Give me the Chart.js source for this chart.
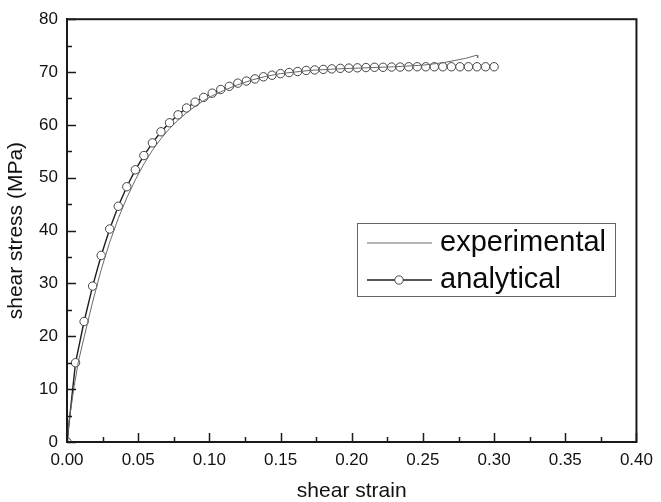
<!DOCTYPE html>
<html>
<head>
<meta charset="utf-8">
<script src="https://cdn.jsdelivr.net/npm/chart.js@4/dist/chart.umd.min.js"></script>
<style>
  html, body { margin: 0; padding: 0; background: #fff; }
  #wrap { width: 661px; height: 502px; position: relative; }
</style>
</head>
<body>
<div id="wrap"><canvas id="chart"></canvas></div>
<script>
// analytical model (open circles)
const analyticalStrain = [0.000, 0.006, 0.012, 0.018, 0.024, 0.030, 0.036, 0.042, 0.048, 0.054,
  0.060, 0.066, 0.072, 0.078, 0.084, 0.090, 0.096, 0.102, 0.108, 0.114,
  0.120, 0.126, 0.132, 0.138, 0.144, 0.150, 0.156, 0.162, 0.168, 0.174,
  0.180, 0.186, 0.192, 0.198, 0.204, 0.210, 0.216, 0.222, 0.228, 0.234,
  0.240, 0.246, 0.252, 0.258, 0.264, 0.270, 0.276, 0.282, 0.288, 0.294, 0.300];
const analyticalStress = [0, 15.0, 22.8, 29.5, 35.3, 40.3, 44.6, 48.3, 51.5, 54.2,
  56.6, 58.7, 60.4, 61.9, 63.2, 64.3, 65.2, 66.0, 66.7, 67.3,
  67.9, 68.3, 68.7, 69.1, 69.4, 69.7, 69.9, 70.1, 70.3, 70.4,
  70.5, 70.6, 70.7, 70.75, 70.8, 70.85, 70.9, 70.9, 70.95, 70.95,
  71.0, 71.0, 71.0, 71.0, 71.0, 71.0, 71.0, 71.0, 71.0, 71.0, 71.0];

// experimental curve (thin grey line)
const experimentalStrain = [0, 0.002, 0.005, 0.008, 0.012, 0.018, 0.024, 0.030, 0.036, 0.042,
  0.048, 0.054, 0.060, 0.066, 0.072, 0.078, 0.084, 0.090, 0.096, 0.102,
  0.110, 0.120, 0.130, 0.140, 0.150, 0.170, 0.190, 0.210, 0.230, 0.250,
  0.265, 0.280, 0.288, 0.2885];
const experimentalStress = [0, 5.0, 10.5, 15.2, 19.8, 26.5, 32.6, 37.8, 42.3, 46.2,
  49.6, 52.6, 55.2, 57.4, 59.3, 60.9, 62.3, 63.5, 64.6, 65.5,
  66.5, 67.6, 68.5, 69.2, 69.7, 70.3, 70.6, 70.8, 71.0, 71.3,
  71.8, 72.6, 73.2, 72.7];

const xTickStep = 0.05;
const yTickStep = 10;
const fontFamily = '"Liberation Sans", Arial, sans-serif';

const toPoints = (xs, ys) => xs.map((x, i) => ({ x, y: ys[i] }));

// inward major/minor ticks + closed frame
const frameTicks = {
  id: 'frameTicks',
  afterDatasetsDraw(chart) {
    const { ctx, chartArea: a, scales } = chart;
    ctx.save();
    ctx.strokeStyle = '#1a1a1a';
    ctx.lineWidth = 2;
    ctx.strokeRect(a.left, a.top, a.right - a.left, a.bottom - a.top);
    ctx.lineWidth = 1.5;
    const x = scales.x, y = scales.y;
    for (let v = 0; v <= 0.4001; v += xTickStep / 2) {
      const px = Math.round(x.getPixelForValue(v)) + 0.5;
      const major = Math.abs(v / xTickStep - Math.round(v / xTickStep)) < 1e-6;
      ctx.beginPath();
      ctx.moveTo(px, a.bottom);
      ctx.lineTo(px, a.bottom - (major ? 9 : 5));
      ctx.stroke();
    }
    for (let v = 0; v <= 80.001; v += yTickStep / 2) {
      const py = Math.round(y.getPixelForValue(v)) + 0.5;
      const major = Math.abs(v / yTickStep - Math.round(v / yTickStep)) < 1e-6;
      ctx.beginPath();
      ctx.moveTo(a.left, py);
      ctx.lineTo(a.left + (major ? 9 : 5), py);
      ctx.stroke();
    }
    ctx.restore();
  }
};

// boxed legend inside the plot
const boxLegend = {
  id: 'boxLegend',
  afterDraw(chart) {
    const { ctx } = chart;
    const ds = chart.data.datasets;
    const bx = 357, by = 223, bw = 258, bh = 73;
    ctx.save();
    ctx.fillStyle = '#fff';
    ctx.fillRect(bx, by, bw, bh);
    ctx.strokeStyle = '#666';
    ctx.lineWidth = 1;
    ctx.strokeRect(bx + 0.5, by + 0.5, bw, bh);
    ctx.font = '29px ' + fontFamily;
    ctx.textBaseline = 'middle';
    ds.forEach((d, i) => {
      const cy = by + 20 + i * 37;
      ctx.strokeStyle = d.borderColor;
      ctx.lineWidth = d.borderWidth;
      ctx.beginPath();
      ctx.moveTo(bx + 10, cy);
      ctx.lineTo(bx + 75, cy);
      ctx.stroke();
      if (d.pointRadius > 0) {
        ctx.beginPath();
        ctx.arc(bx + 42, cy, d.pointRadius, 0, Math.PI * 2);
        ctx.fillStyle = d.pointBackgroundColor;
        ctx.fill();
        ctx.strokeStyle = d.pointBorderColor;
        ctx.lineWidth = 1;
        ctx.stroke();
      }
      ctx.fillStyle = '#0a0a0a';
      ctx.fillText(d.label, bx + 83, cy);
    });
    ctx.restore();
  }
};

const whiteBg = {
  id: 'whiteBg',
  beforeDraw(chart) {
    const { ctx } = chart;
    ctx.save();
    ctx.fillStyle = '#fff';
    ctx.fillRect(0, 0, chart.width, chart.height);
    ctx.restore();
  }
};

const ctx = document.getElementById('chart').getContext('2d');
new Chart(ctx, {
  type: 'scatter',
  data: {
    datasets: [
      {
        label: 'experimental',
        data: toPoints(experimentalStrain, experimentalStress),
        showLine: true,
        borderColor: '#6a6a6a',
        borderWidth: 1,
        pointRadius: 0,
        tension: 0
      },
      {
        label: 'analytical',
        data: toPoints(analyticalStrain, analyticalStress),
        showLine: true,
        borderColor: '#1e1e1e',
        borderWidth: 1.4,
        pointRadius: 4.2,
        pointBackgroundColor: '#fff',
        pointBorderColor: '#444',
        pointBorderWidth: 1,
        tension: 0
      }
    ]
  },
  options: {
    responsive: true,
    maintainAspectRatio: false,
    animation: false,
    events: [],
    layout: { padding: { top: 17, right: 16, left: 0, bottom: 0 } },
    plugins: {
      legend: { display: false },
      tooltip: { enabled: false }
    },
    scales: {
      x: {
        type: 'linear',
        min: 0,
        max: 0.4,
        afterFit(scale) { scale.height = 60; },
        grid: { display: false, drawTicks: false },
        border: { display: true, color: '#1a1a1a', width: 2 },
        ticks: {
          stepSize: xTickStep,
          padding: 8,
          color: '#111',
          font: { family: fontFamily, size: 17 },
          callback: v => v.toFixed(2)
        },
        title: {
          display: true,
          text: 'shear strain',
          color: '#111',
          font: { family: fontFamily, size: 21, lineHeight: 1 },
          padding: { top: 0, bottom: 0 }
        }
      },
      y: {
        type: 'linear',
        min: 0,
        max: 80,
        afterFit(scale) { scale.width = 67; },
        grid: { display: false, drawTicks: false },
        border: { display: true, color: '#1a1a1a', width: 2 },
        ticks: {
          stepSize: yTickStep,
          padding: 9,
          color: '#111',
          font: { family: fontFamily, size: 17 }
        },
        title: {
          display: true,
          text: 'shear stress (MPa)',
          color: '#111',
          font: { family: fontFamily, size: 21, lineHeight: 1 },
          padding: { top: 6, bottom: 0 }
        }
      }
    }
  },
  plugins: [whiteBg, frameTicks, boxLegend]
});
</script>
</body>
</html>
